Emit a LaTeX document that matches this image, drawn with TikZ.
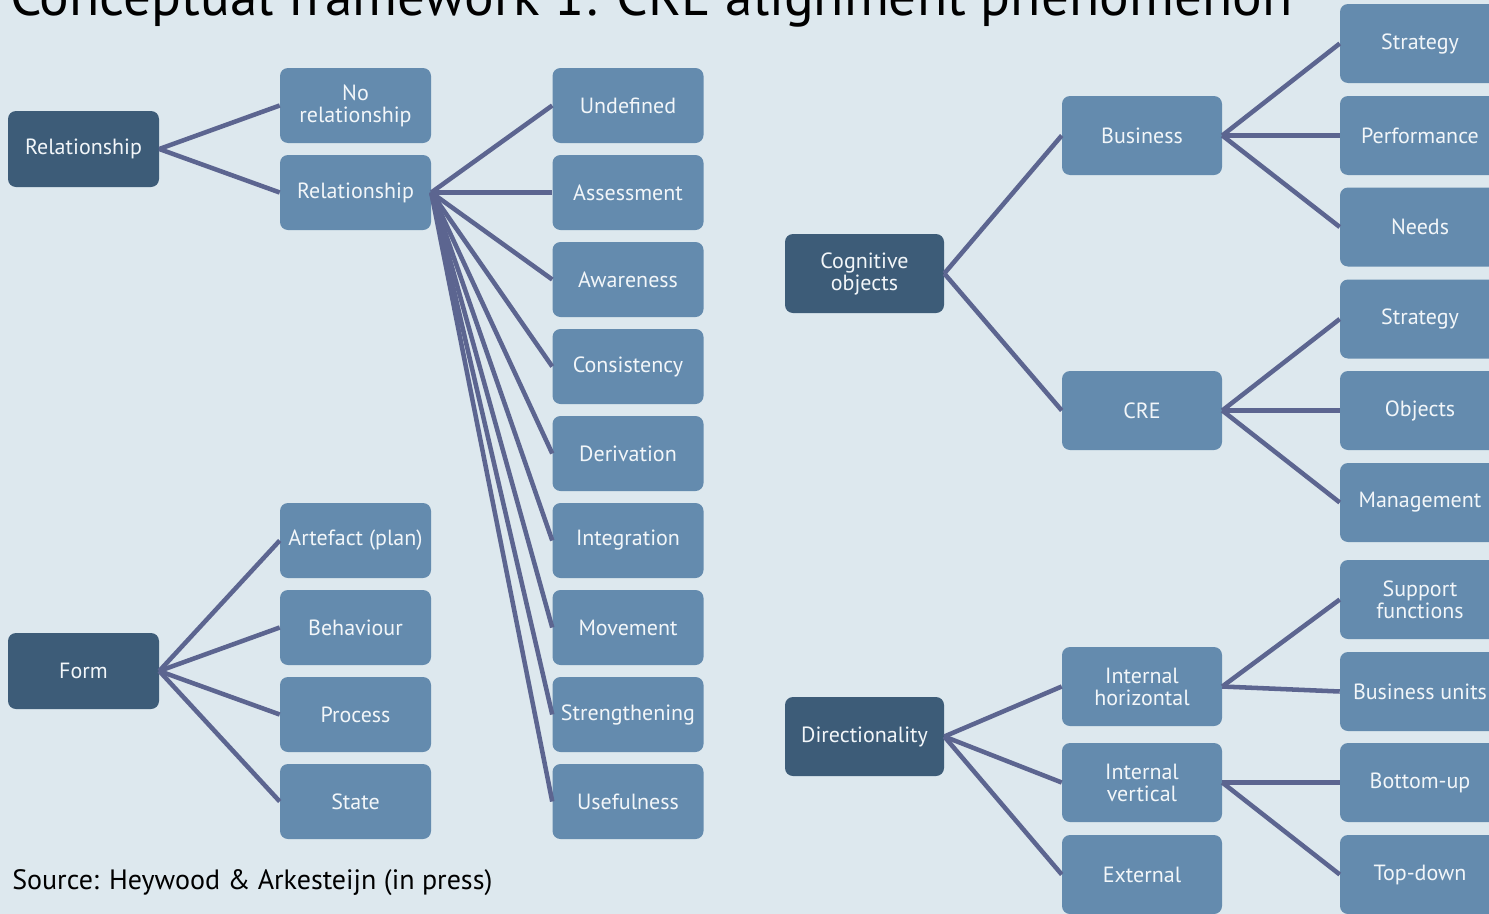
\documentclass[tikz,border=0pt]{standalone}
\usepackage{fontspec}
\setmainfont{PT Sans}
\definecolor{bg}{HTML}{DDE8EE}
\definecolor{darkfill}{HTML}{3D5C78}
\definecolor{lightfill}{HTML}{648BAE}
\definecolor{wire}{HTML}{5C6590}
\definecolor{boxtext}{HTML}{F2F6F9}
\tikzset{
  basebox/.style={rounded corners=6pt, text=boxtext, align=center, inner sep=0pt,
    font=\fontsize{16.5}{16.5}\selectfont},
  smallbox/.style={basebox, fill=lightfill, minimum width=113.25pt, minimum height=56.25pt},
  rootbox/.style={basebox, fill=darkfill, minimum width=113.25pt, minimum height=57pt},
  bigbox/.style={basebox, fill=lightfill, minimum width=120pt, minimum height=59.25pt},
  bigroot/.style={basebox, fill=darkfill, minimum width=119.25pt, minimum height=59.25pt},
  link/.style={draw=wire, line width=3.4pt}
}
\begin{document}
\begin{tikzpicture}[x=0.75pt,y=-0.75pt]
\useasboundingbox (0,0) rectangle (1489,914);
\fill[bg] (0,0) rectangle (1489,914);
\clip (0,0) rectangle (1489,914);

% title (runs off the top edge) and source line
\node[anchor=base west, inner sep=0pt, font=\fontsize{41.5}{41.5}\selectfont] (title) at (10,15)
  {Conceptual framework 1: CRE alignment phenomenon};
\node[anchor=base west, inner sep=0pt, font=\fontsize{21}{21}\selectfont] (source) at (12,889)
  {Source: Heywood \& Arkesteijn (in press)};

% left tree: relationship
\node[rootbox] (relroot) at (83.5,149) {Relationship};
\node[smallbox] (norel) at (355.5,105.5) {No\\relationship};
\node[smallbox] (rel) at (355.5,192.5) {Relationship};

\node[smallbox] (undef) at (628,105.5) {Undefined};
\node[smallbox] (assess) at (628,192.5) {Assessment};
\node[smallbox] (aware) at (628,279.5) {Awareness};
\node[smallbox] (consist) at (628,366.5) {Consistency};
\node[smallbox] (deriv) at (628,453.5) {Derivation};
\node[smallbox] (integ) at (628,540.5) {Integration};
\node[smallbox] (move) at (628,627.5) {Movement};
\node[smallbox] (streng) at (628,714.5) {Strengthening};
\node[smallbox] (useful) at (628,801.5) {Usefulness};

% left tree: form
\node[rootbox] (form) at (83.5,671) {Form};
\node[smallbox] (artef) at (355.5,540.5) {Artefact (plan)};
\node[smallbox] (behav) at (355.5,627.5) {Behaviour};
\node[smallbox] (proc) at (355.5,714.5) {Process};
\node[smallbox] (state) at (355.5,801.5) {State};

% right tree: cognitive objects
\node[bigroot] (cog) at (864.5,273.5) {Cognitive\\objects};
\node[bigbox] (bus) at (1142,135.5) {Business};
\node[bigbox] (cre) at (1142,410.5) {CRE};
\node[bigbox] (bstrat) at (1420,43.5) {Strategy};
\node[bigbox] (bperf) at (1420,135.5) {Performance};
\node[bigbox] (bneeds) at (1420,227) {Needs};
\node[bigbox] (cstrat) at (1420,319) {Strategy};
\node[bigbox] (cobj) at (1420,410.5) {Objects};
\node[bigbox] (cman) at (1420,502.5) {Management};

% right tree: directionality
\node[bigroot] (dir) at (864.5,736.5) {Directionality};
\node[bigbox] (ihor) at (1142,686.5) {Internal\\horizontal};
\node[bigbox] (iver) at (1142,782.5) {Internal\\vertical};
\node[bigbox] (ext) at (1142,874.5) {External};
\node[bigbox] (supp) at (1420,599.5) {Support\\functions};
\node[bigbox] (bunits) at (1420,691.5) {Business units};
\node[bigbox] (bottom) at (1420,782.5) {Bottom-up};
\node[bigbox] (top) at (1420,874.5) {Top-down};

% connectors
\foreach \c in {norel,rel} \draw[link] (relroot.east) -- (\c.west);
\foreach \c in {undef,assess,aware,consist,deriv,integ,move,streng,useful}
  \draw[link] (rel.east) -- (\c.west);
\foreach \c in {artef,behav,proc,state} \draw[link] (form.east) -- (\c.west);
\foreach \c in {bus,cre} \draw[link] (cog.east) -- (\c.west);
\foreach \c in {bstrat,bperf,bneeds} \draw[link] (bus.east) -- (\c.west);
\foreach \c in {cstrat,cobj,cman} \draw[link] (cre.east) -- (\c.west);
\foreach \c in {ihor,iver,ext} \draw[link] (dir.east) -- (\c.west);
\foreach \c in {supp,bunits} \draw[link] (ihor.east) -- (\c.west);
\foreach \c in {bottom,top} \draw[link] (iver.east) -- (\c.west);
\end{tikzpicture}
\end{document}
